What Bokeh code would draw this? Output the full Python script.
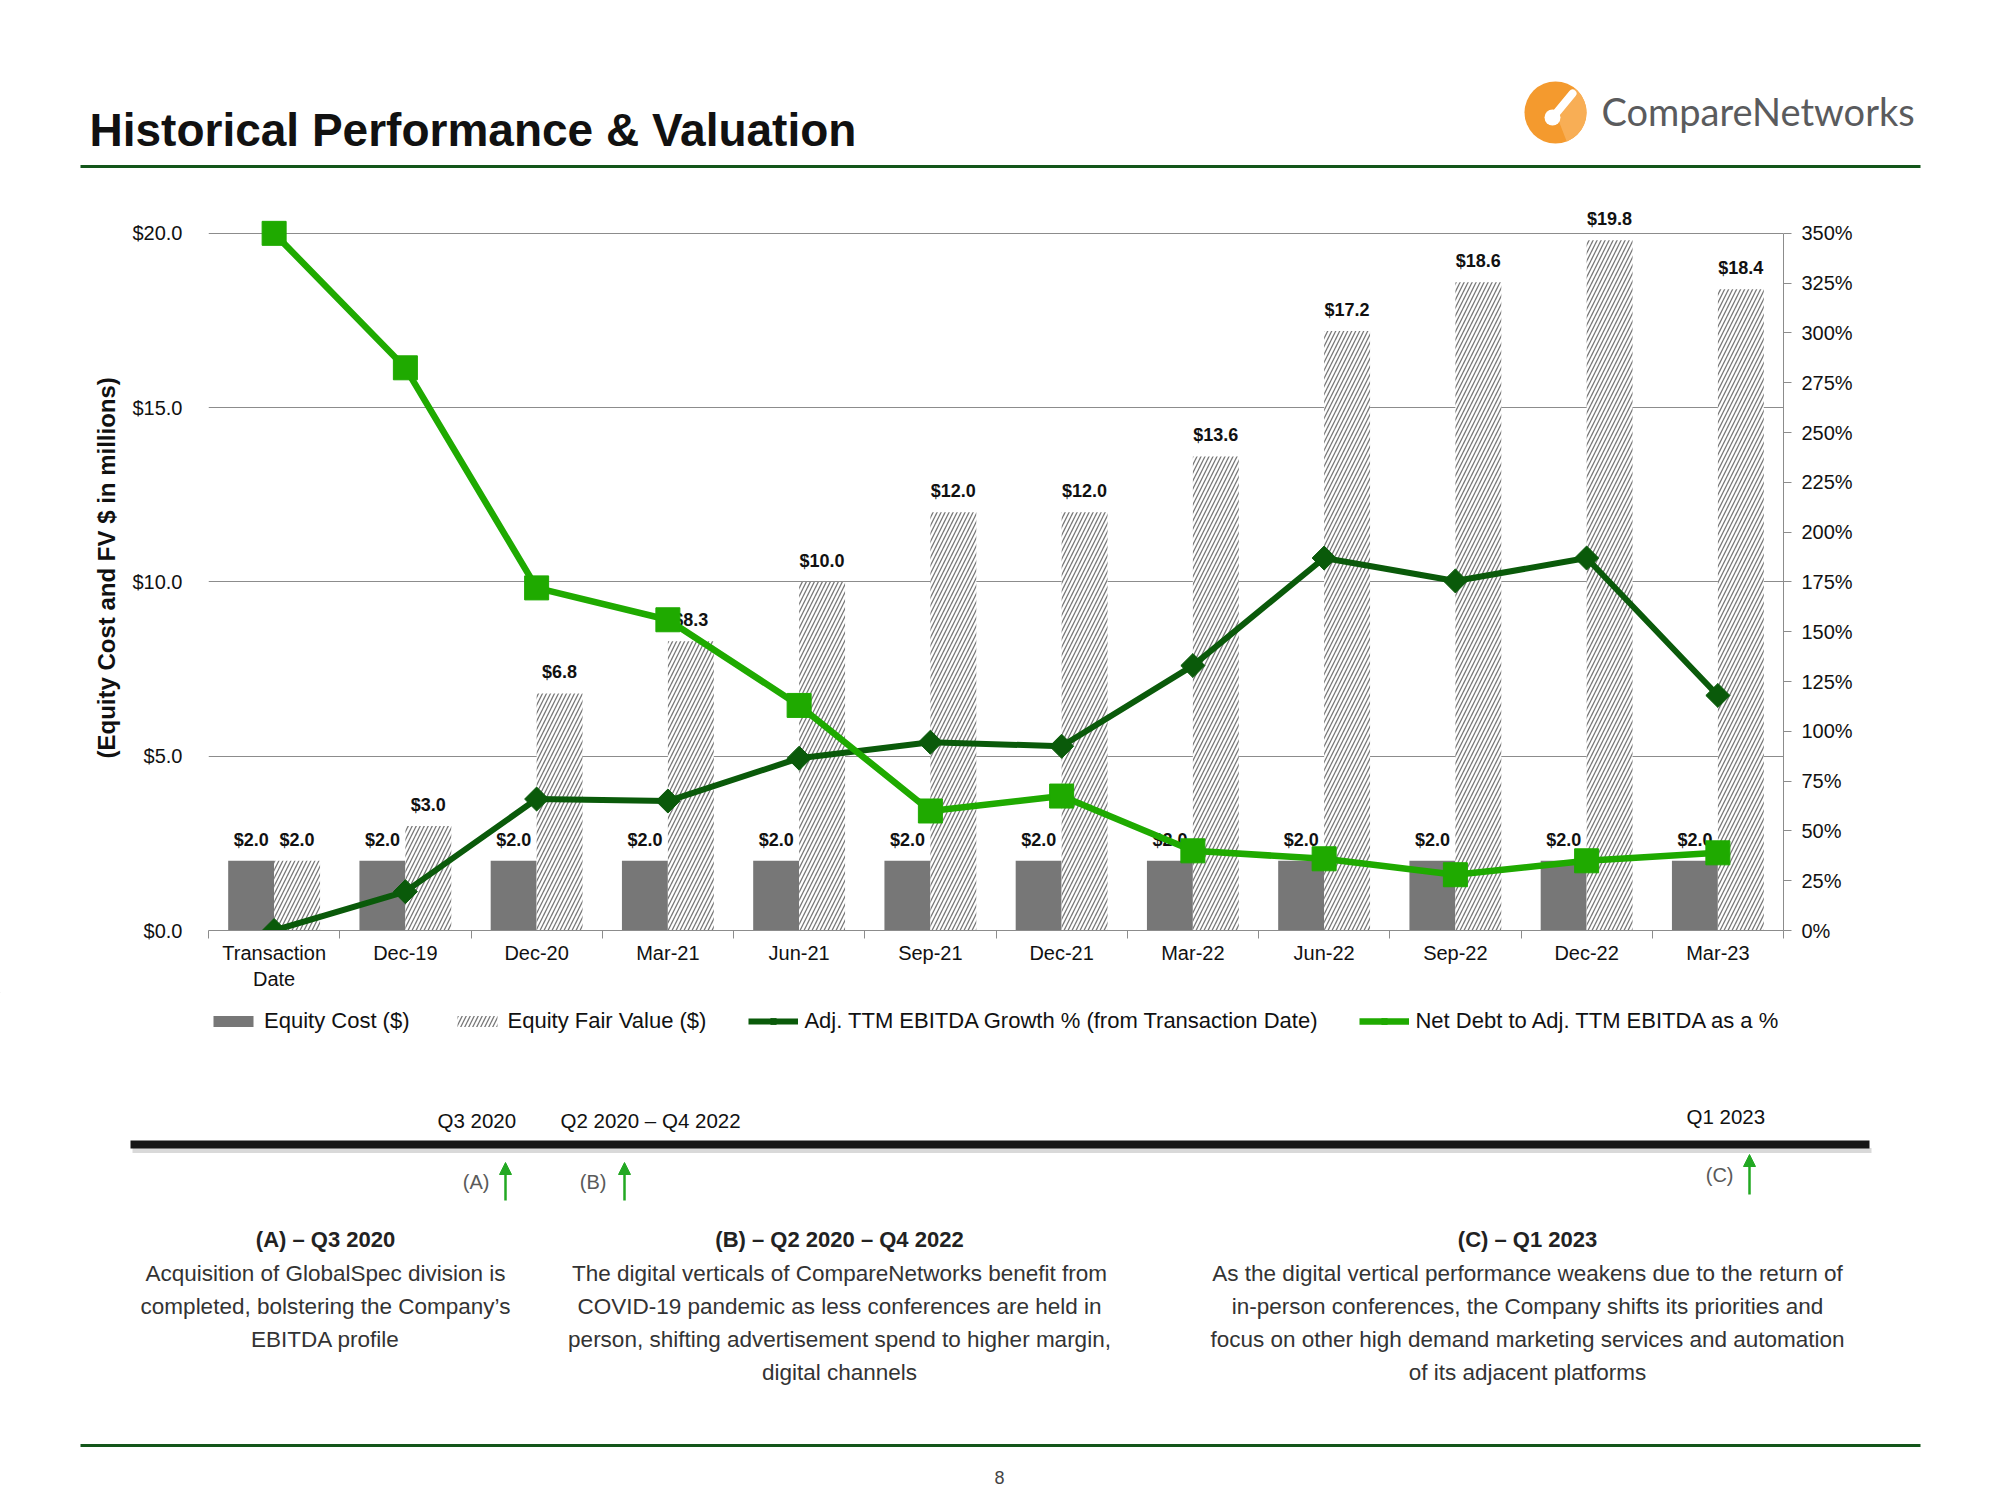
from bokeh.plotting import figure
from bokeh.models import (ColumnDataSource, Range1d, LinearAxis, Legend, LegendItem,
                          FixedTicker, PrintfTickFormatter, Grid, Arrow, NormalHead)
from bokeh.transform import dodge
from bokeh.core.properties import value
from bokeh.layouts import column
from bokeh.embed import file_html
from bokeh.resources import INLINE

# ---------------- data ----------------
categories = ["Transaction\nDate", "Dec-19", "Dec-20", "Mar-21", "Jun-21", "Sep-21",
              "Dec-21", "Mar-22", "Jun-22", "Sep-22", "Dec-22", "Mar-23"]
equity_cost = [2.0, 2.0, 2.0, 2.0, 2.0, 2.0, 2.0, 2.0, 2.0, 2.0, 2.0, 2.0]
equity_fv = [2.0, 3.0, 6.8, 8.3, 10.0, 12.0, 12.0, 13.6, 17.2, 18.6, 19.8, 18.4]
ebitda_growth = [0.0, 19.5, 66.0, 65.0, 86.5, 94.5, 92.5, 133.0, 187.0, 175.5, 187.0, 118.0]
net_debt_pct = [350.0, 282.5, 172.0, 156.0, 113.0, 60.0, 67.5, 40.0, 36.0, 28.0, 35.0, 39.0]
left_ticks = [0, 5, 10, 15, 20]
right_ticks = [0, 25, 50, 75, 100, 125, 150, 175, 200, 225, 250, 275, 300, 325, 350]

series_names = ["Equity Cost ($)", "Equity Fair Value ($)",
                "Adj. TTM EBITDA Growth % (from Transaction Date)",
                "Net Debt to Adj. TTM EBITDA as a %"]

title_text = "Historical Performance & Valuation"
logo_text = "CompareNetworks"
timeline_labels = ["Q3 2020", "Q2 2020 – Q4 2022", "Q1 2023"]
marker_labels = ["(A)", "(B)", "(C)"]
headings = ["(A) – Q3 2020", "(B) – Q2 2020 – Q4 2022", "(C) – Q1 2023"]
bodies = [
    ["Acquisition of GlobalSpec division is", "completed, bolstering the Company’s", "EBITDA profile"],
    ["The digital verticals of CompareNetworks benefit from",
     "COVID-19 pandemic as less conferences are held in",
     "person, shifting advertisement spend to higher margin,", "digital channels"],
    ["As the digital vertical performance weakens due to the return of",
     "in-person conferences, the Company shifts its priorities and",
     "focus on other high demand marketing services and automation",
     "of its adjacent platforms"],
]
page_number = "8"

SANS = "Liberation Sans"
DARK_GREEN = "#0A5A0A"
LIGHT_GREEN = "#1FAA00"
RULE_GREEN = "#13561A"
W = 2000

cost_style = dict(fill_color="#777777", line_color=None)
fv_style = dict(fill_color="white", line_color=None, hatch_pattern="/", hatch_color="#777777",
                hatch_scale=8, hatch_weight=1.3)
growth_line = dict(line_width=6, line_color=DARK_GREEN)
growth_marker = dict(marker="square", angle=0.785398, size=17, fill_color=DARK_GREEN,
                     line_color=DARK_GREEN)
debt_line = dict(line_width=6.5, line_color=LIGHT_GREEN)
debt_marker = dict(marker="square", size=24, fill_color=LIGHT_GREEN, line_color=LIGHT_GREEN)


def no_align(f):
    if "frame_align" in f.properties():
        f.frame_align = False
    return f


def blank(height, y0, y1):
    f = figure(width=W, height=height, x_range=Range1d(0, W), y_range=Range1d(y1, y0),
               output_backend="svg", toolbar_location=None, title=None,
               x_axis_location=None, y_axis_location=None,
               min_border_left=0, min_border_right=0, min_border_top=0, min_border_bottom=0,
               outline_line_color=None)
    f.xgrid.visible = False
    f.ygrid.visible = False
    return no_align(f)


# ---------------- header ----------------
H = blank(180, 0, 180)
H.text(x=[89], y=[129], text=[title_text], text_font=value(SANS), text_font_style="bold",
       text_font_size="46px", text_color="#111111", text_baseline="middle")
H.segment(x0=[80], y0=[166], x1=[1920], y1=[166], line_width=3, line_color=RULE_GREEN)
H.circle(x=[1555], y=[112], radius=31, fill_color="#F49A2E", line_color=None)
H.wedge(x=[1555], y=[112], radius=31, start_angle=-1.2, end_angle=0.9,
        fill_color="#F8AE55", line_color=None)
H.segment(x0=[1553], y0=[116], x1=[1572], y1=[93], line_width=8, line_color="white", line_cap="round")
H.circle(x=[1552], y=[117], radius=8, fill_color="white", line_color=None)
H.text(x=[1601], y=[110], text=[logo_text], text_font=value("Lato"), text_font_size="38px",
       text_color="#5A5B5D", text_baseline="middle")

# ---------------- chart ----------------
n = len(categories)
slot_centers = [i + 0.5 for i in range(n)]
slot_edges = [float(i) for i in range(n + 1)]

src = ColumnDataSource(dict(
    x=slot_centers, cost=equity_cost, fv=equity_fv, growth=ebitda_growth, debt=net_debt_pct,
    cost_lbl=[f"${v:.1f}" for v in equity_cost], fv_lbl=[f"${v:.1f}" for v in equity_fv]))

B = figure(width=W, height=812, x_range=Range1d(0, n), y_range=Range1d(0, 21),
           output_backend="svg", toolbar_location=None, title=None,
           x_axis_location=None, y_axis_location=None,
           min_border_left=208, min_border_right=217, min_border_top=18, min_border_bottom=62,
           outline_line_color=None)
no_align(B)
B.xgrid.visible = False
B.ygrid.visible = False
B.extra_y_ranges = {"pct": Range1d(0, 367.5)}

grid = Grid(dimension=1, ticker=FixedTicker(ticks=left_ticks[1:]), grid_line_color="#8C8C8C",
            grid_line_width=1)
B.add_layout(grid)

yl = LinearAxis(ticker=FixedTicker(ticks=left_ticks), formatter=PrintfTickFormatter(format="$%.1f"),
                axis_line_color=None, major_tick_line_color=None, minor_tick_line_color=None,
                major_label_standoff=20, major_label_text_font=SANS, major_label_text_font_size="20px",
                major_label_text_color="#111111",
                axis_label="(Equity Cost  and FV $ in millions)", axis_label_text_font=SANS,
                axis_label_text_font_style="bold", axis_label_text_font_size="24px",
                axis_label_text_color="#111111", axis_label_standoff=9)
B.add_layout(yl, "left")

yr = LinearAxis(y_range_name="pct", ticker=FixedTicker(ticks=right_ticks),
                formatter=PrintfTickFormatter(format="%d%%"), bounds=(0, 350),
                axis_line_color="#8C8C8C", major_tick_line_color="#8C8C8C", major_tick_out=8,
                major_tick_in=0, minor_tick_line_color=None, major_label_standoff=10,
                major_label_text_font=SANS, major_label_text_font_size="20px",
                major_label_text_color="#111111")
B.add_layout(yr, "right")

xa = LinearAxis(ticker=FixedTicker(ticks=slot_centers, minor_ticks=slot_edges),
                major_label_overrides=dict(zip(slot_centers, categories)),
                axis_line_color="#8C8C8C", major_tick_line_color=None, major_tick_out=8,
                major_tick_in=0, minor_tick_line_color="#8C8C8C", minor_tick_out=8, minor_tick_in=0,
                major_label_standoff=3, major_label_text_font=SANS, major_label_text_font_size="20px",
                major_label_text_color="#111111")
B.add_layout(xa, "below")

B.vbar(x=dodge("x", -0.175), top="cost", width=0.35, source=src, **cost_style)
B.vbar(x=dodge("x", 0.175), top="fv", width=0.35, source=src, **fv_style)
B.text(x=dodge("x", -0.175), y="cost", text="cost_lbl", source=src,
       text_align="center", text_baseline="middle", y_offset=-21, text_font=value(SANS),
       text_font_style="bold", text_font_size="18px", text_color="#111111")
B.text(x=dodge("x", 0.175), y="fv", text="fv_lbl", source=src,
       text_align="center", text_baseline="middle", y_offset=-21, text_font=value(SANS),
       text_font_style="bold", text_font_size="18px", text_color="#111111")
B.line(x="x", y="growth", source=src, y_range_name="pct", **growth_line)
B.scatter(x="x", y="growth", source=src, y_range_name="pct", **growth_marker)
B.line(x="x", y="debt", source=src, y_range_name="pct", **debt_line)
B.scatter(x="x", y="debt", source=src, y_range_name="pct", **debt_marker)

# ---------------- footer (with legend) ----------------
F = blank(508, 992, 1500)

# legend swatches drawn with the same styles as the chart series
# (a single point placed outside the visible range, so only the swatch shows)
proxy = ColumnDataSource(dict(x=[-500.0], y=[-500.0]))
r_cost = F.vbar(x="x", top="y", width=1, source=proxy, **cost_style)
r_fv = F.vbar(x="x", top="y", width=1, source=proxy, **fv_style)
r_gl = F.line(x="x", y="y", source=proxy, **growth_line)
r_gm = F.scatter(x="x", y="y", source=proxy, **growth_marker)
r_dl = F.line(x="x", y="y", source=proxy, **debt_line)
r_dm = F.scatter(x="x", y="y", source=proxy, **debt_marker)
legend = Legend(items=[LegendItem(label=series_names[0], renderers=[r_cost]),
                       LegendItem(label=series_names[1], renderers=[r_fv]),
                       LegendItem(label=series_names[2], renderers=[r_gl, r_gm]),
                       LegendItem(label=series_names[3], renderers=[r_dl, r_dm])],
                location=(208, 466), orientation="horizontal", background_fill_alpha=0,
                border_line_color=None, padding=2, margin=0, spacing=42, glyph_width=50,
                glyph_height=14, label_height=20, label_standoff=6, label_text_font=SANS,
                label_text_font_size="22px", label_text_color="#111111")
F.add_layout(legend)

F.segment(x0=[132], y0=[1150], x1=[1871], y1=[1150], line_width=5, line_color="#D9D9D9")
F.segment(x0=[130], y0=[1144], x1=[1869], y1=[1144], line_width=8, line_color="#161616")
F.text(x=[437, 560, 1686], y=[1120, 1120, 1116], text=timeline_labels, text_font=value(SANS),
       text_font_size="20.5px", text_color="#111111", text_baseline="middle")
F.text(x=[489, 606, 1733], y=[1181, 1181, 1174], text=marker_labels, text_font=value(SANS),
       text_font_size="20px", text_color="#5A5A5A", text_baseline="middle", text_align="right")
for ax, ys, ye in [(505, 1200, 1162), (624, 1200, 1162), (1749, 1194, 1154)]:
    F.add_layout(Arrow(end=NormalHead(size=12, fill_color="#22A822", line_color="#22A822"),
                       x_start=ax, y_start=ys, x_end=ax, y_end=ye,
                       line_color="#22A822", line_width=2.5))
centers = [325, 839, 1527]
F.text(x=centers, y=[1239, 1239, 1239], text=headings, text_font=value(SANS),
       text_font_style="bold", text_font_size="22px", text_color="#222222",
       text_baseline="middle", text_align="center")
for cx, lines in zip(centers, bodies):
    F.text(x=[cx] * len(lines), y=[1273 + 33 * i for i in range(len(lines))], text=lines,
           text_font=value(SANS), text_font_size="22.5px", text_color="#333333",
           text_baseline="middle", text_align="center")
F.segment(x0=[80], y0=[1445], x1=[1920], y1=[1445], line_width=3, line_color=RULE_GREEN)
F.text(x=[999], y=[1477], text=[page_number], text_font=value(SANS), text_font_size="18px",
       text_color="#444444", text_baseline="middle", text_align="center")

layout = column(H, B, F, spacing=0)
open("out.html", "w").write(file_html(layout, INLINE))
